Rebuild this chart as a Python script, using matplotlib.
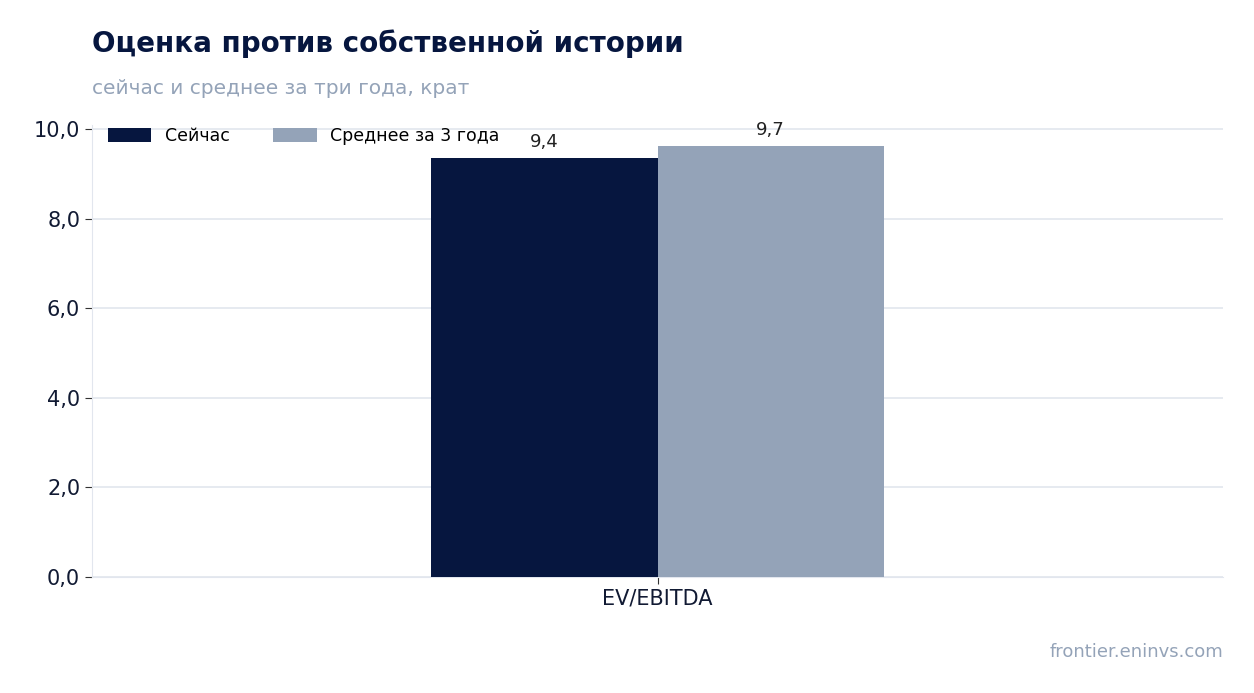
import matplotlib
matplotlib.use("Agg")
import matplotlib.pyplot as plt
import numpy as np

categories = ["EV/EBITDA"]
series_names = ["Сейчас", "Среднее за 3 года"]
now_vals = [9.37]
avg_vals = [9.64]
labels_now = ["9,4"]
labels_avg = ["9,7"]
yticks = [0, 2, 4, 6, 8, 10]
ytick_labels = ["0,0", "2,0", "4,0", "6,0", "8,0", "10,0"]

fig = plt.figure(figsize=(12.54, 6.93), dpi=100)
ax = fig.add_axes([92/1254, 1-577/693, 1131/1254, (577-125)/693])
x = np.arange(len(categories))
w = 0.4
c1, c2 = "#06163f", "#94a3b8"
b1 = ax.bar(x - w/2, now_vals, w, color=c1, label=series_names[0], zorder=3)
b2 = ax.bar(x + w/2, avg_vals, w, color=c2, label=series_names[1], zorder=3)
for bars, labs in ((b1, labels_now), (b2, labels_avg)):
    for r, l in zip(bars, labs):
        ax.annotate(l, (r.get_x() + r.get_width()/2, r.get_height()), xytext=(0, 5),
                    textcoords="offset points", ha="center", va="bottom", fontsize=13, color="#222222")
ax.set_xlim(-1, 1)
ax.set_ylim(0, 10.1)
ax.set_yticks(yticks)
ax.set_yticklabels(ytick_labels, fontsize=15, color="#111a33")
ax.set_xticks(x)
ax.set_xticklabels(categories, fontsize=15, color="#111a33")
ax.grid(axis="y", color="#e2e6ee", lw=1.2, zorder=0)
for s in ("top", "right"):
    ax.spines[s].set_visible(False)
ax.spines["left"].set_color("#e2e6ee")
ax.spines["bottom"].set_color("#e2e6ee")
ax.tick_params(axis="y", length=5, color="#333333")
ax.tick_params(axis="x", length=5, color="#333333")
ax.legend(loc="upper left", frameon=False, ncol=2, fontsize=12.5, handlelength=2.5,
          handleheight=0.8, columnspacing=2.5, bbox_to_anchor=(0.0, 1.03))
fig.text(92/1254, 1-44/693, "Оценка против собственной истории", fontsize=20, fontweight="bold",
         color="#06163f", va="center")
fig.text(92/1254, 1-88/693, "сейчас и среднее за три года, крат", fontsize=14.5,
         color="#94a3b8", va="center")
fig.text(1223/1254, 1-652/693, "frontier.eninvs.com", fontsize=13, color="#94a3b8",
         ha="right", va="center")
fig.savefig("out.png", dpi=100)
